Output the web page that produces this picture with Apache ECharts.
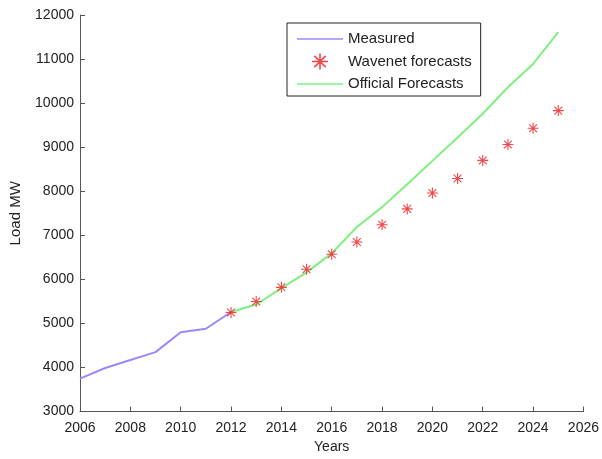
<!DOCTYPE html>
<html><head><meta charset="utf-8">
<script src="https://cdn.jsdelivr.net/npm/echarts@6/dist/echarts.min.js"></script>
<style>html,body{margin:0;padding:0;background:#fff}#c{width:602px;height:459px}</style>
</head><body><div id="c"></div>
<script>
const measuredYears = [2006, 2007, 2008, 2009, 2010, 2011, 2012];
const measuredLoad = [3750, 3990, 4170, 4350, 4800, 4880, 5260];
const forecastYears = [2012, 2013, 2014, 2015, 2016, 2017, 2018, 2019, 2020, 2021, 2022, 2023, 2024, 2025];
const wavenetLoad = [5250, 5500, 5820, 6230, 6570, 6850, 7240, 7600, 7960, 8290, 8700, 9060, 9430, 9830];
const officialLoad = [5260, 5430, 5800, 6160, 6590, 7190, 7640, 8160, 8690, 9220, 9760, 10360, 10890, 11610];
const xTicks = [2006, 2026, 2];
const yTicks = [3000, 12000, 1000];

const star = 'path://M9,0h2v20h-2z M0,9h20v2h-20z M2.2,3.6l1.4,-1.4l14.2,14.2l-1.4,1.4z M16.4,2.2l1.4,1.4l-14.2,14.2l-1.4,-1.4z';
const font = 'Liberation Sans';
const pair = (xs, ys) => xs.map((x, i) => [x, ys[i]]);

const chart = echarts.init(document.getElementById('c'), null, {renderer: 'canvas'});
chart.setOption({
  animation: false,
  textStyle: {fontFamily: font},
  grid: {left: 79, right: 17, top: 15, bottom: 45, containLabel: false},
  legend: {
    left: 287, top: 23, orient: 'vertical', itemGap: 6.5, itemWidth: 46, itemHeight: 16,
    padding: [8, 9, 4, 10],
    borderColor: '#222', borderWidth: 1, backgroundColor: '#fff',
    textStyle: {fontFamily: font, fontSize: 15, color: '#222', lineHeight: 16},
    data: [
      {name: 'Measured', icon: 'path://M0,9h46v1.6h-46z'},
      {name: 'Wavenet forecasts'},
      {name: 'Official Forecasts', icon: 'path://M0,9h46v1.6h-46z'}
    ]
  },
  xAxis: {
    type: 'value', min: xTicks[0], max: xTicks[1], interval: xTicks[2],
    name: 'Years', nameLocation: 'middle', nameGap: 28,
    nameTextStyle: {fontFamily: font, fontSize: 14, color: '#222'},
    axisLine: {lineStyle: {color: '#555', width: 1}},
    axisTick: {inside: true, length: 5, lineStyle: {color: '#555'}},
    axisLabel: {fontFamily: font, fontSize: 14, color: '#222', margin: 9.5, formatter: v => String(v)},
    splitLine: {show: false}
  },
  yAxis: {
    type: 'value', min: yTicks[0], max: yTicks[1], interval: yTicks[2],
    name: 'Load MW', nameLocation: 'middle', nameGap: 57,
    nameTextStyle: {fontFamily: font, fontSize: 15, color: '#222'},
    axisLine: {show: true, lineStyle: {color: '#555', width: 1}},
    axisTick: {show: true, inside: true, length: 5, lineStyle: {color: '#555'}},
    axisLabel: {fontFamily: font, fontSize: 14, color: '#222', margin: 6, formatter: v => String(v)},
    splitLine: {show: false}
  },
  series: [
    {name: 'Measured', type: 'line', data: pair(measuredYears, measuredLoad),
     showSymbol: false, symbol: 'none', lineStyle: {color: '#9a88ff', width: 2}, itemStyle: {color: '#9a88ff'}},
    {name: 'Official Forecasts', type: 'line', data: pair(forecastYears, officialLoad),
     showSymbol: false, symbol: 'none', lineStyle: {color: '#7ff07f', width: 2}, itemStyle: {color: '#7ff07f'}},
    {name: 'Wavenet forecasts', type: 'scatter', data: pair(forecastYears, wavenetLoad),
     symbol: star, symbolSize: 11, itemStyle: {color: '#f0282a', opacity: 0.85}, z: 5}
  ]
});
</script></body></html>
